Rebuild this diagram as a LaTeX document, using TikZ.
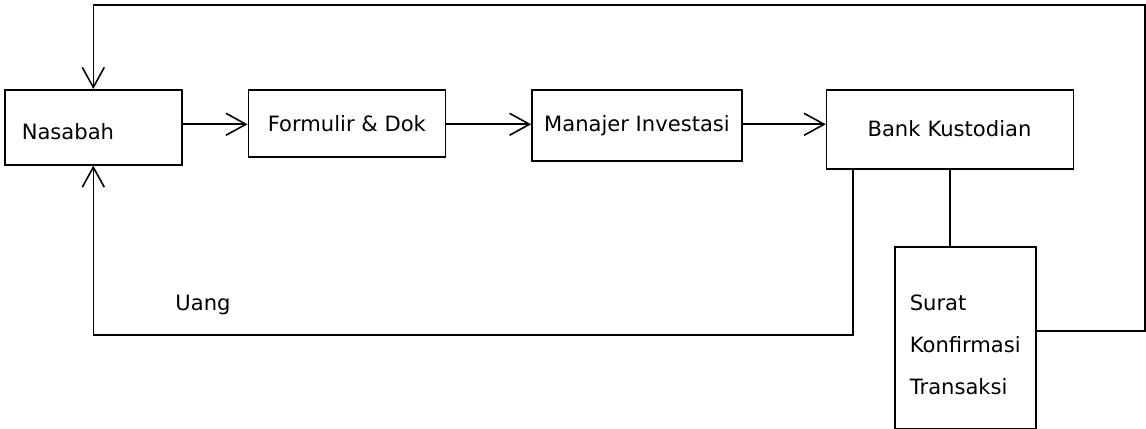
\documentclass[tikz,border=0pt]{standalone}
\usepackage{fontspec}
\setmainfont{DejaVu Sans}
\usepackage{tikz}
\usetikzlibrary{arrows.meta, positioning}
\tikzset{kotak/.style={draw, line width=0.9pt, rectangle, minimum height=1.4cm, inner xsep=0.32cm}}

\begin{document}
\begin{tikzpicture}[>={Straight Barb[length=4mm,width=4.4mm]}, line width=0.9pt, font=\fontsize{12}{14}\selectfont]
\useasboundingbox (0,0) rectangle (22.92,8.58);
\node[kotak, anchor=north west, minimum height=1.5cm, text width=2.86cm, text height=0.5cm, inner xsep=0.34cm, align=left] (nas) at (0.08,6.8) {Nasabah};
\node[kotak, right=1.3cm of nas.north east, anchor=north west, minimum width=3.94cm, minimum height=1.34cm] (form) {Formulir \& Dok};
\node[kotak, right=1.7cm of form.north east, anchor=north west, minimum width=4.2cm, minimum height=1.42cm, inner xsep=0.1cm] (mi) {Manajer Investasi};
\node[kotak, right=1.66cm of mi.north east, anchor=north west, minimum width=4.94cm, minimum height=1.58cm, text width=3.3cm, text height=0.3cm, inner xsep=0.72cm, align=left] (bk) {Bank Kustodian};
\node[kotak, anchor=north west, minimum width=2.78cm, minimum height=3.64cm, inner xsep=0.3cm, align=left, font=\fontsize{12}{24}\selectfont] (skt) at (17.88,3.66) {\rule{0pt}{0.6cm}Surat\\Konfirmasi\\ Transaksi};
\node (uang) at (4.06,2.48) {Uang};
\coordinate (balik) at (22.9,8.48);
\coordinate (dasar) at (1.85,1.88);
\draw[->] ([yshift=0.06cm]nas.east) -- ([yshift=0.06cm]nas.east -| form.west);
\draw[->] ([yshift=0.06cm]nas.east -| form.east) -- ([yshift=0.06cm]nas.east -| mi.west);
\draw[->] ([yshift=0.06cm]nas.east -| mi.east) -- ([yshift=0.06cm]nas.east -| bk.west);
\draw (bk.south) -- (bk.south |- skt.north);
\draw[->] ([yshift=0.14cm]skt.east) -| (balik) -| (nas.north);
\draw[->] ([xshift=0.54cm]bk.south west) |- (nas.south |- dasar) -- (nas.south);
\end{tikzpicture}
\end{document}
